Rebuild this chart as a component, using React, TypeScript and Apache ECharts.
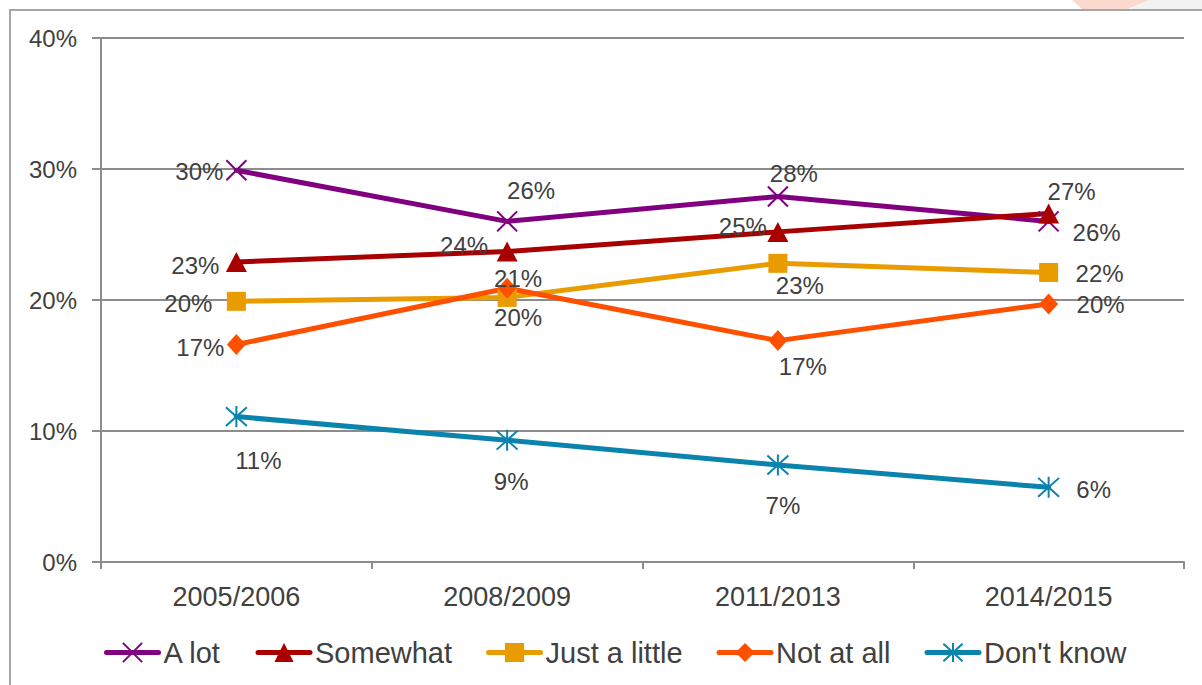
import React, { useEffect, useRef } from "react";
import * as echarts from "echarts";

// Survey periods (category axis)
const periods = ["2005/2006", "2008/2009", "2011/2013", "2014/2015"];

// Share of respondents per answer, in percent
const aLot = [29.9, 26.0, 27.9, 26.0];
const somewhat = [22.9, 23.7, 25.2, 26.6];
const justALittle = [19.9, 20.2, 22.8, 22.1];
const notAtAll = [16.6, 20.9, 16.9, 19.7];
const dontKnow = [11.1, 9.3, 7.4, 5.7];

// Value axis range and step, in percent
const yMin = 0;
const yMax = 40;
const yStep = 10;

// Label placement: offset of each value label from its marker centre
const aLotLabelOffsets = [[-37, 1], [24, -31], [16, -23], [48, 11]];
const somewhatLabelOffsets = [[-41, 3], [-43, -6], [-35, -5], [23, -22]];
const justALittleLabelOffsets = [[-48, 2], [11, 20], [22, 22], [51, 1]];
const notAtAllLabelOffsets = [[-36, 3], [11, -10], [25, 26], [52, 1]];
const dontKnowLabelOffsets = [[22, 44], [4, 41], [5, 40], [45, 2]];

const FONT = "'Liberation Sans', Arial, sans-serif";
const TEXT = "#404040";
const GRID = "#8c8c8c";

const CROSS = "path://M0,0L20,20M20,0L0,20";
const STAR = "path://M10,0L10,20M1,1L19,19M19,1L1,19";

function lineSeries(
  name: string,
  values: number[],
  color: string,
  symbol: string,
  symbolSize: number | number[],
  offsets: number[][],
  strokeSymbol: boolean
) {
  return {
    type: "line",
    name,
    data: values.map((v, i) => ({ value: v, label: { offset: offsets[i] } })),
    symbol,
    symbolSize,
    showAllSymbol: true,
    lineStyle: { color, width: 5, cap: "round" },
    itemStyle: strokeSymbol
      ? { color, borderColor: color, borderWidth: 2 }
      : { color, borderWidth: 0 },
    label: {
      show: true,
      position: "inside",
      align: "center",
      verticalAlign: "middle",
      formatter: (p: any) => `${Math.round(p.value)}%`,
      color: TEXT,
      fontFamily: FONT,
      fontSize: 24,
      textBorderWidth: 0,
    },
    emphasis: { disabled: true },
  };
}

export default function App() {
  const ref = useRef<HTMLDivElement>(null);

  useEffect(() => {
    if (!ref.current) return;
    const chart = echarts.init(ref.current, null, { renderer: "svg" });
    chart.setOption({
      animation: false,
      backgroundColor: "#ffffff",
      textStyle: { fontFamily: FONT, color: TEXT },
      graphic: [
        {
          type: "polygon",
          silent: true,
          shape: { points: [[1072, 0], [1150, 0], [1128, 9], [1082, 9]] },
          style: { fill: "#fbd9cf" },
        },
        {
          type: "polygon",
          silent: true,
          shape: { points: [[1150, 0], [1202, 0], [1202, 9], [1130, 9]] },
          style: { fill: "#f2f2f2" },
        },
        {
          type: "rect",
          silent: true,
          shape: { x: 10, y: 10, width: 1400, height: 900 },
          style: { fill: "none", stroke: "#a6a6a6", lineWidth: 2 },
        },
      ],
      grid: { left: 101, right: 18, top: 38, bottom: 123, containLabel: false },
      legend: {
        left: 99,
        top: 633,
        itemWidth: 52,
        itemHeight: 24,
        itemGap: 34,
        textStyle: { fontFamily: FONT, fontSize: 29, color: TEXT },
        lineStyle: { width: 5, cap: "round" },
        data: ["A lot", "Somewhat", "Just a little", "Not at all", "Don't know"],
      },
      xAxis: {
        type: "category",
        data: periods,
        boundaryGap: true,
        axisLine: { show: true, lineStyle: { color: GRID, width: 2 } },
        axisTick: { show: true, length: 7, lineStyle: { color: GRID, width: 2 } },
        axisLabel: { fontFamily: FONT, fontSize: 27, color: TEXT, margin: 21 },
      },
      yAxis: {
        type: "value",
        min: yMin,
        max: yMax,
        interval: yStep,
        axisLine: { show: true, lineStyle: { color: GRID, width: 2 } },
        axisTick: { show: true, length: 9, lineStyle: { color: GRID, width: 2 } },
        splitLine: { show: true, lineStyle: { color: GRID, width: 2 } },
        axisLabel: {
          fontFamily: FONT,
          fontSize: 24,
          color: TEXT,
          margin: 24,
          formatter: (v: number) => `${v}%`,
        },
      },
      series: [
        lineSeries("A lot", aLot, "#800080", CROSS, 20, aLotLabelOffsets, true),
        lineSeries("Somewhat", somewhat, "#a80000", "triangle", [21, 20], somewhatLabelOffsets, false),
        lineSeries("Just a little", justALittle, "#e89c00", "rect", 19, justALittleLabelOffsets, false),
        lineSeries("Not at all", notAtAll, "#ff5000", "diamond", [19, 21], notAtAllLabelOffsets, false),
        lineSeries("Don't know", dontKnow, "#0a83ad", STAR, 21, dontKnowLabelOffsets, true),
      ],
    });
    return () => chart.dispose();
  }, []);

  return (
    <div
      ref={ref}
      style={{ position: "fixed", left: 0, top: 0, width: 1202, height: 685 }}
    />
  );
}
